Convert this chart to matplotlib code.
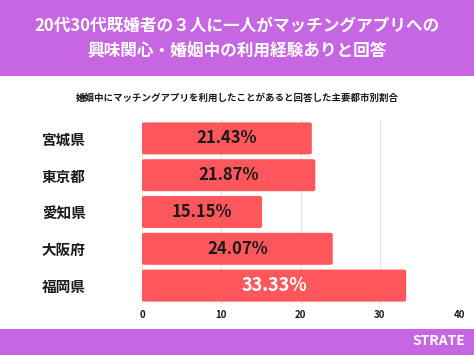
import matplotlib.pyplot as plt
from matplotlib.patches import Rectangle, FancyBboxPatch

plt.rcParams['font.family'] = ['Noto Sans CJK JP', 'DejaVu Sans']

# data
cities = ['宮城県', '東京都', '愛知県', '大阪府', '福岡県']
rates = [21.43, 21.87, 15.15, 24.07, 33.33]
label_colors = ['#1a1a1a', '#1a1a1a', '#1a1a1a', '#1a1a1a', 'white']
xticks = [0, 10, 20, 30, 40]

title = '20代30代既婚者の３人に一人がマッチングアプリへの\n興味関心・婚姻中の利用経験ありと回答'
subtitle = '婚姻中にマッチングアプリを利用したことがあると回答した主要都市別割合'

purple = '#C766E2'
bar_color = '#FF575C'

fig = plt.figure(figsize=(4.74, 3.55), dpi=100)
fig.patch.set_facecolor('white')

# header / footer bands
fig.add_artist(Rectangle((0, 1 - 76/355), 1, 76/355, transform=fig.transFigure,
                         facecolor=purple, edgecolor='none', zorder=0))
fig.add_artist(Rectangle((0, 0), 1, 26/355, transform=fig.transFigure,
                         facecolor=purple, edgecolor='none', zorder=0))
fig.text(0.5, 1 - 39/355, title, ha='center', va='center', color='white',
         fontsize=12, fontweight='bold', linespacing=1.45)
fig.text(0.5, 1 - 98/355, subtitle, ha='center', va='center', color='#1a1a1a',
         fontsize=6.8, fontweight='bold')
fig.text(0.982, 1 - 341/355, 'STRATE', ha='right', va='center', color='white',
         fontsize=10, fontweight='bold')

ax = fig.add_axes([142/474, 1 - 304/355, (459 - 142)/474, 184/355])
y = list(range(len(cities)))
bars = ax.barh(y, rates, height=0.87, color=bar_color, zorder=2)
# slightly rounded bar ends
for b in bars:
    b.set_visible(False)
    ax.add_patch(FancyBboxPatch((b.get_x(), b.get_y()), b.get_width(), b.get_height(),
                                boxstyle='round,pad=0,rounding_size=0.35',
                                mutation_aspect=0.12, facecolor=bar_color,
                                edgecolor='none', zorder=2))
for yi, v, c in zip(y, rates, label_colors):
    big = c == 'white'
    ax.text(v / 2, yi, '%.2f%%' % v, ha='center', va='center', color=c,
            fontsize=13 if big else 12, fontweight='bold', zorder=3)

ax.set_xlim(0, 40)
ax.set_ylim(4.5, -0.5)
ax.set_xticks(xticks)
ax.set_xticklabels([str(t) for t in xticks], fontsize=7, fontweight='bold', color='#1a1a1a')
ax.set_yticks(y)
ax.set_yticklabels(cities, fontsize=10.5, fontweight='bold', color='#1a1a1a')
for lab in ax.get_yticklabels():
    lab.set_horizontalalignment('left')
ax.tick_params(axis='y', length=0, pad=72)
ax.tick_params(axis='x', length=0, pad=4)
ax.grid(axis='x', color='#e3e3e3', linewidth=0.8, zorder=0)
for s in ax.spines.values():
    s.set_visible(False)

fig.savefig('out.png', dpi=100)
